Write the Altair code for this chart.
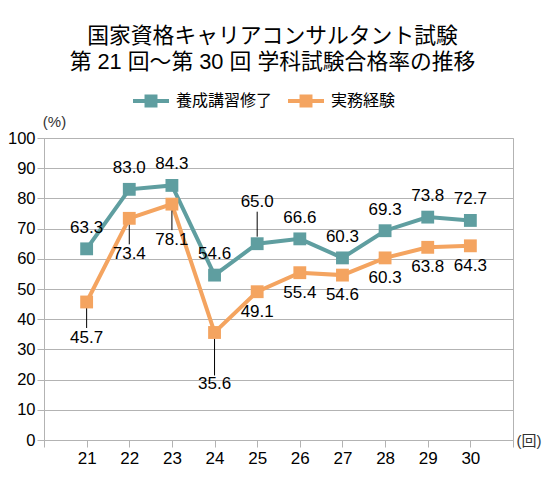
import altair as alt
import pandas as pd

# 回 (exam number) and pass rates (%)
kai = [21, 22, 23, 24, 25, 26, 27, 28, 29, 30]
yousei = [63.3, 83.0, 84.3, 54.6, 65.0, 66.6, 60.3, 69.3, 73.8, 72.7]
jitsumu = [45.7, 73.4, 78.1, 35.6, 49.1, 55.4, 54.6, 60.3, 63.8, 64.3]
series = ["養成講習修了", "実務経験"]
colors = ["#5f9ea0", "#f4a460"]
y_ticks = list(range(0, 101, 10))
x_ticks = list(range(20, 32))

df = pd.concat(
    [
        pd.DataFrame({"kai": kai, "series": series[0], "rate": yousei}),
        pd.DataFrame({"kai": kai, "series": series[1], "rate": jitsumu}),
    ],
    ignore_index=True,
)

NUM_FONT = "Liberation Sans"
JP_FONT = "Liberation Sans, Noto Sans CJK JP"
GRID = "#b3b3b3"

# legend symbol: a line with a square on it
SYMBOL = "M-1,-0.11H1V0.11H-1Z M-0.36,-0.36H0.36V0.36H-0.36Z"

base = alt.Chart(df)

x_axis = alt.X(
    "kai:Q",
    scale=alt.Scale(domain=[20, 31], nice=False, zero=False),
    axis=alt.Axis(
        values=x_ticks,
        labelExpr="datum.value >= 21 && datum.value <= 30 ? datum.label : ''",
        labelFlush=False,
        labelOverlap=False,
        labelFont=NUM_FONT,
        labelFontSize=17,
        labelColor="black",
        labelPadding=3,
        grid=False,
        domainColor=GRID,
        tickColor=GRID,
        tickSize=7,
        title="(回)",
        titleFont=JP_FONT,
        titleFontSize=15,
        titleFontWeight="normal",
        titleColor="#333333",
        titleX=472,
        titleY=0,
        titleAlign="left",
        titleBaseline="middle",
        titleAngle=0,
    ),
)
y_axis = alt.Y(
    "rate:Q",
    scale=alt.Scale(domain=[0, 100], nice=False),
    axis=alt.Axis(
        values=y_ticks,
        tickCount=11,
        labelOverlap=False,
        labelFont=NUM_FONT,
        labelFontSize=16.5,
        labelColor="black",
        labelPadding=2,
        gridColor=GRID,
        domainColor=GRID,
        tickColor=GRID,
        tickSize=7,
        title="(%)",
        titleFont=JP_FONT,
        titleFontSize=15,
        titleFontWeight="normal",
        titleColor="#333333",
        titleAngle=0,
        titleX=10,
        titleY=-17,
        titleAlign="center",
        titleBaseline="middle",
    ),
)

lines = base.mark_line(strokeWidth=4).encode(
    x=x_axis,
    y=y_axis,
    stroke=alt.Stroke(
        "series:N", scale=alt.Scale(domain=series, range=colors), legend=None
    ),
)

points = base.mark_square(size=165, opacity=1, filled=True).encode(
    x=x_axis,
    y=y_axis,
    color=alt.Color(
        "series:N",
        scale=alt.Scale(domain=series, range=colors),
        legend=alt.Legend(
            orient="none",
            legendX=89,
            legendY=-55,
            direction="horizontal",
            title=None,
            symbolType=SYMBOL,
            symbolSize=1296,
            symbolStrokeWidth=0,
            labelFont=JP_FONT,
            labelFontSize=16,
            labelColor="black",
            labelOffset=7,
            columnPadding=15,
            padding=0,
        ),
    ),
)


def labels(cond, dy):
    return (
        base.transform_filter(cond)
        .mark_text(dy=dy, font=NUM_FONT, fontSize=17, color="black")
        .encode(x=x_axis, y=y_axis, text=alt.Text("rate:Q", format=".1f"))
    )


def leader(cond, off1, off2):
    return (
        base.transform_filter(cond)
        .mark_rule(color="black", strokeWidth=1, yOffset=off1, y2Offset=off2)
        .encode(x=x_axis, y=y_axis, y2="rate:Q")
    )


teal = f"datum.series == '{series[0]}'"
orange = f"datum.series == '{series[1]}'"

layers = [
    lines,
    leader(f"{teal} && datum.kai == 25", -32, -7),
    leader(f"{orange} && datum.kai <= 23", 6, 26),
    leader(f"{orange} && datum.kai == 24", 6, 43),
    points,
    labels(f"{teal} && datum.kai != 25", -21),
    labels(f"{teal} && datum.kai == 25", -42),
    labels(f"{orange} && datum.kai >= 25", 20),
    labels(f"{orange} && datum.kai <= 23", 36),
    labels(f"{orange} && datum.kai == 24", 52),
]

chart = (
    alt.layer(*layers)
    .resolve_scale(color="independent", stroke="independent")
    .properties(
        width=469,
        height=302,
        autosize="none",
        padding={"left": 36, "top": 130, "right": 29, "bottom": 32},
        title=alt.Title(
            ["国家資格キャリアコンサルタント試験", "第 21 回〜第 30 回 学科試験合格率の推移"],
            font=JP_FONT,
            fontSize=21.8,
            fontWeight="normal",
            lineHeight=26,
            color="black",
            anchor="middle",
            dx=-6,
            offset=9,
        ),
    )
    .configure_view(stroke=GRID, strokeWidth=1)
)

chart.save("out.html", embed_options={"renderer": "svg", "actions": False})
